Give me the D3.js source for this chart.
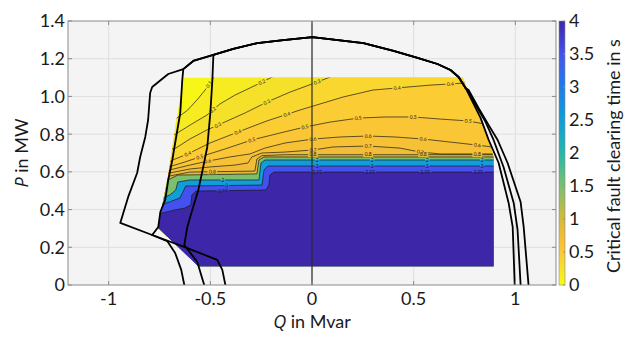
<!DOCTYPE html>
<html>
<head>
<meta charset="utf-8">
<script src="https://cdn.jsdelivr.net/npm/d3@7"></script>
<style>
  body { margin: 0; background: #fff; }
  svg { display: block; }
  text { font-family: Lato, "Open Sans", sans-serif; }
  tspan.sym { font-family: "Open Sans", "Liberation Sans", sans-serif; font-style: italic; }
</style>
</head>
<body>
<svg id="chart" width="639" height="348"></svg>
<script>
// ---- axis ticks ----
const qTicks = [-1, -0.5, 0, 0.5, 1];
const pTicks = [0, 0.2, 0.4, 0.6, 0.8, 1.0, 1.2, 1.4];
const pTickText = ["0", "0.2", "0.4", "0.6", "0.8", "1.0", "1.2", "1.4"];
const cctTicks = [0, 0.5, 1, 1.5, 2, 2.5, 3, 3.5, 4];

// ---- operating points that were simulated (Q in Mvar, P in MW) ----
const region = [[-0.633, 1.1], [0.741, 1.1], [0.780, 0.992], [0.829, 0.886], [0.869, 0.769],
  [0.893, 0.679], [0.893, 0.1], [-0.559, 0.1], [-0.756, 0.302], [-0.746, 0.371],
  [-0.731, 0.451], [-0.707, 0.583], [-0.687, 0.732], [-0.662, 0.912]];

// ---- iso-lines of the critical fault clearing time (s) ----
const levels = [0.1, 0.2, 0.3, 0.4, 0.5, 0.6, 0.7, 0.8, 1, 2, 3, 3.99];
const iso010 = [[-0.700, 0.854], [-0.665, 0.885], [-0.611, 0.928], [-0.562, 0.986], [-0.522, 1.039], [-0.493, 1.087], [-0.473, 1.119]];
const iso020 = [[-0.700, 0.790], [-0.670, 0.801], [-0.591, 0.854], [-0.517, 0.901], [-0.453, 0.960], [-0.379, 1.007], [-0.305, 1.045], [-0.246, 1.076], [-0.187, 1.108]];
const iso030 = [[-0.709, 0.716], [-0.670, 0.726], [-0.601, 0.774], [-0.517, 0.822], [-0.429, 0.864], [-0.330, 0.912], [-0.222, 0.970], [-0.108, 1.023], [0.025, 1.076], [0.113, 1.113]];
const iso040 = [[-0.719, 0.642], [-0.685, 0.663], [-0.611, 0.695], [-0.502, 0.753], [-0.365, 0.811], [-0.222, 0.870], [-0.059, 0.928], [0.153, 0.997], [0.300, 1.034], [0.419, 1.045], [0.581, 1.060], [0.680, 1.066], [0.803, 1.076]];
const iso050 = [[-0.724, 0.620], [-0.690, 0.631], [-0.626, 0.652], [-0.552, 0.679], [-0.429, 0.721], [-0.296, 0.769], [-0.158, 0.806], [-0.034, 0.838], [0.089, 0.864], [0.227, 0.885], [0.360, 0.891], [0.498, 0.891], [0.631, 0.880], [0.768, 0.870], [0.877, 0.848]];
const iso060 = [[-0.724, 0.604], [-0.601, 0.636], [-0.512, 0.657], [-0.404, 0.679], [-0.305, 0.695], [-0.232, 0.726], [-0.133, 0.753], [0.005, 0.774], [0.138, 0.785], [0.276, 0.790], [0.409, 0.785], [0.547, 0.774], [0.680, 0.758], [0.813, 0.742], [0.926, 0.726]];
const iso070 = [[-0.724, 0.589], [-0.601, 0.615], [-0.502, 0.626], [-0.379, 0.636], [-0.315, 0.647], [-0.296, 0.679], [-0.246, 0.700], [-0.133, 0.705], [0.005, 0.716], [0.103, 0.732], [0.276, 0.737], [0.433, 0.726], [0.532, 0.705], [0.631, 0.695], [0.926, 0.695]];
const iso080 = [[-0.724, 0.573], [-0.601, 0.599], [-0.281, 0.604], [-0.271, 0.668], [-0.246, 0.686], [-0.133, 0.691], [0.926, 0.691]];
const iso100 = [[-0.734, 0.546], [-0.690, 0.567], [-0.660, 0.583], [-0.271, 0.589], [-0.261, 0.663], [-0.236, 0.679], [0.926, 0.679]];
const iso200 = [[-0.739, 0.461], [-0.700, 0.477], [-0.670, 0.504], [-0.660, 0.546], [-0.601, 0.557], [-0.261, 0.557], [-0.251, 0.647], [-0.231, 0.663], [0.926, 0.663]];
const iso300 = [[-0.744, 0.424], [-0.690, 0.445], [-0.650, 0.461], [-0.635, 0.493], [-0.621, 0.525], [-0.246, 0.530], [-0.236, 0.610], [-0.217, 0.631], [0.926, 0.631]];
const iso399 = [[-0.759, 0.376], [-0.675, 0.398], [-0.626, 0.408], [-0.596, 0.424], [-0.591, 0.477], [-0.571, 0.498], [-0.227, 0.504], [-0.212, 0.530], [-0.207, 0.583], [-0.187, 0.599], [0.926, 0.599]];

// Q positions of the inline level labels on each iso-line
const labelQ = [
  [-0.507],
  [-0.488, -0.246],
  [-0.463, -0.222, 0.025],
  [-0.611, -0.365, -0.123, 0.419, 0.68],
  [-0.552, -0.296, -0.034, 0.227, 0.498, 0.768],
  [-0.512, 0.005, 0.276, 0.547, 0.813],
  [0.005, 0.276, 0.532],
  [-0.49, 0.005, 0.276, 0.547, 0.813],
  [],
  [-0.438, 0.025, 0.296, 0.567, 0.837],
  [-0.419, 0.025, 0.296, 0.567, 0.837],
  [-0.438, 0.025, 0.286, 0.557, 0.818]
];

// ---- PQ capability limits ----
const dome = [[-0.786, 1.050], [-0.707, 1.119], [-0.633, 1.145], [-0.584, 1.188], [-0.485, 1.220], [-0.387, 1.252], [-0.269, 1.283], [-0.141, 1.299], [0.002, 1.315], [0.253, 1.283], [0.401, 1.241], [0.519, 1.204], [0.617, 1.172], [0.681, 1.140], [0.721, 1.103], [0.755, 1.045]];
const rightA = [[0.780, 0.992], [0.829, 0.886], [0.869, 0.769], [0.918, 0.647], [0.967, 0.435], [0.987, 0.308], [0.997, 0.0], [0.998, -0.05]];
const rightB = [[0.765, 1.034], [0.805, 0.955], [0.854, 0.864], [0.893, 0.769], [0.942, 0.626], [0.992, 0.435], [1.011, 0.292], [1.026, 0.0], [1.027, -0.05]];
const rightC = [[0.770, 1.034], [0.819, 0.939], [0.869, 0.848], [0.913, 0.769], [0.962, 0.647], [1.026, 0.440], [1.041, 0.308], [1.065, 0.0], [1.066, -0.05]];
const left1 = [[-0.796, 1.018], [-0.806, 0.875], [-0.820, 0.785], [-0.845, 0.679], [-0.860, 0.594], [-0.904, 0.467], [-0.943, 0.329], [-0.786, 0.265], [-0.613, 0.196], [-0.466, 0.133], [-0.441, 0.080], [-0.426, 0.0], [-0.425, -0.05]];
const left2 = [[-0.638, 1.087], [-0.648, 0.912], [-0.673, 0.753], [-0.687, 0.663], [-0.707, 0.557], [-0.722, 0.451], [-0.746, 0.387], [-0.756, 0.308], [-0.786, 0.265], [-0.712, 0.233], [-0.673, 0.170], [-0.643, 0.080], [-0.628, 0.0], [-0.627, -0.05]];
const left3 = [[-0.490, 1.087], [-0.500, 0.912], [-0.515, 0.732], [-0.535, 0.626], [-0.559, 0.504], [-0.589, 0.398], [-0.613, 0.308], [-0.628, 0.212], [-0.564, 0.122], [-0.545, 0.053], [-0.530, 0.0], [-0.529, -0.05]];

// ---- scales ----
const svg = d3.select("#chart");
const x = d3.scaleLinear().domain([-1.2, 1.2]).range([68, 556]);
const y = d3.scaleLinear().domain([0, 1.4]).range([285, 21]);
const yc = d3.scaleLinear().domain([0, 4]).range([285, 21]);

// parula-like colour map, long times dark blue, short times yellow
const parula = d3.scaleLinear()
  .domain([0, 0.125, 0.25, 0.375, 0.5, 0.625, 0.75, 0.82, 0.88, 0.94, 1])
  .range(["#3e26a8", "#4352ee", "#1e7deb", "#0f9ed7", "#23b7ad", "#7dbf6e", "#d2ba3c", "#f5bd37", "#fcc935", "#f6e22a", "#f9fb14"])
  .interpolate(d3.interpolateRgb);
const color = v => parula(1 - v / 4);

const line = d3.line().x(d => x(d[0])).y(d => y(d[1]));

const defs = svg.append("defs");
defs.append("clipPath").attr("id", "plotArea")
  .append("rect").attr("x", 68).attr("y", 21).attr("width", 488).attr("height", 264);
defs.append("clipPath").attr("id", "simRegion")
  .append("path").attr("d", line(region) + "Z");

// plot background and grid
svg.append("rect").attr("x", 68).attr("y", 21).attr("width", 488).attr("height", 264).attr("fill", "#f4f4f4");
const grid = svg.append("g").attr("stroke", "#dedede").attr("stroke-width", 1);
qTicks.forEach(q => grid.append("line").attr("x1", x(q)).attr("x2", x(q)).attr("y1", 21).attr("y2", 285));
pTicks.slice(1, -1).forEach(p => grid.append("line").attr("x1", 68).attr("x2", 556).attr("y1", y(p)).attr("y2", y(p)));

// ---- filled bands ----
const isoSets = [iso010, iso020, iso030, iso040, iso050, iso060, iso070, iso080, iso100, iso200, iso300, iso399];
const isolines = levels.map((lv, i) => ({ level: lv, pts: isoSets[i], labels: labelQ[i] }));
const extend = pts => [[pts[0][0] - 0.1, pts[0][1]], ...pts, [pts[pts.length - 1][0] + 0.1, pts[pts.length - 1][1]]];

const fills = svg.append("g").attr("clip-path", "url(#simRegion)");
fills.append("path").attr("d", line(region) + "Z").attr("fill", color(0.05));
isolines.forEach((iso, i) => {
  const upper = i + 1 < isolines.length ? isolines[i + 1].level : 4;
  const pts = extend(iso.pts);
  const first = pts[0], last = pts[pts.length - 1];
  const poly = [...pts, [2, last[1]], [2, -1], [-2, -1], [-2, first[1]]];
  fills.append("path").attr("d", line(poly) + "Z").attr("fill", color((iso.level + upper) / 2));
});

// ---- iso-lines with inline labels ----
function pointAt(pts, q) {
  for (let i = 0; i < pts.length - 1; i++) {
    const [q0, p0] = pts[i], [q1, p1] = pts[i + 1];
    if (q1 > q0 && q >= q0 && q <= q1) {
      const t = (q - q0) / (q1 - q0);
      const px = x(q), py = y(p0 + t * (p1 - p0));
      const ang = Math.atan2(y(p1) - y(p0), x(q1) - x(q0)) * 180 / Math.PI;
      return { px, py, ang };
    }
  }
  return null;
}
const labelSpots = [];
isolines.forEach(iso => {
  iso.labels.forEach(q => {
    const s = pointAt(iso.pts, q);
    if (s) labelSpots.push({ ...s, text: String(iso.level) });
  });
});

const mask = defs.append("mask").attr("id", "labelGaps").attr("maskUnits", "userSpaceOnUse")
  .attr("x", 0).attr("y", 0).attr("width", 639).attr("height", 348);
mask.append("rect").attr("x", 0).attr("y", 0).attr("width", 639).attr("height", 348).attr("fill", "#fff");
labelSpots.forEach(s => {
  const w = s.text.length * 2.6 + 2;
  mask.append("rect").attr("x", -w / 2).attr("y", -2.5).attr("width", w).attr("height", 5)
    .attr("transform", `translate(${s.px},${s.py}) rotate(${s.ang})`).attr("fill", "#000");
});

const isoG = svg.append("g").attr("clip-path", "url(#simRegion)")
  .append("g").attr("mask", "url(#labelGaps)");
isolines.forEach(iso => {
  isoG.append("path").attr("d", line(extend(iso.pts)))
    .attr("fill", "none").attr("stroke", "#1a1a1a").attr("stroke-width", 0.7);
});
svg.append("g").selectAll("text").data(labelSpots).join("text")
  .attr("transform", d => `translate(${d.px},${d.py}) rotate(${d.ang})`)
  .attr("text-anchor", "middle").attr("dy", "0.35em")
  .attr("font-size", 5).attr("fill", "#1a1a1a")
  .text(d => d.text);

// ---- Q = 0 line ----
svg.append("line").attr("x1", x(0)).attr("x2", x(0)).attr("y1", 21).attr("y2", 285)
  .attr("stroke", "#2a2a2a").attr("stroke-width", 1.2);

// ---- capability limits ----
const limits = svg.append("g").attr("clip-path", "url(#plotArea)")
  .attr("fill", "none").attr("stroke", "#000").attr("stroke-width", 1.8).attr("stroke-linejoin", "round");
const curve1 = [...left1.slice().reverse(), ...dome, ...rightC];
const curve2 = [...left2.slice().reverse(), ...dome.slice(2), ...rightB];
const curve3 = [...left3.slice().reverse(), ...dome.slice(4), ...rightA];
[curve1, curve2, curve3].forEach(c => limits.append("path").attr("d", line(c)));

// ---- axes box and ticks ----
const axisColor = "#8a8a8a";
svg.append("rect").attr("x", 68).attr("y", 21).attr("width", 488).attr("height", 264)
  .attr("fill", "none").attr("stroke", axisColor).attr("stroke-width", 1);
const tk = svg.append("g").attr("stroke", axisColor).attr("stroke-width", 1);
qTicks.forEach(q => {
  tk.append("line").attr("x1", x(q)).attr("x2", x(q)).attr("y1", 285).attr("y2", 281);
  tk.append("line").attr("x1", x(q)).attr("x2", x(q)).attr("y1", 21).attr("y2", 25);
});
pTicks.forEach(p => {
  tk.append("line").attr("x1", 68).attr("x2", 72).attr("y1", y(p)).attr("y2", y(p));
  tk.append("line").attr("x1", 556).attr("x2", 552).attr("y1", y(p)).attr("y2", y(p));
});

svg.append("g").selectAll("text").data(qTicks).join("text")
  .attr("x", d => x(d)).attr("y", 305).attr("text-anchor", "middle")
  .attr("font-size", 18).attr("fill", "#1a1a1a").text(d => String(d));
svg.append("g").selectAll("text").data(pTicks).join("text")
  .attr("x", 65).attr("y", d => y(d)).attr("dy", "0.36em").attr("text-anchor", "end")
  .attr("font-size", 18).attr("fill", "#1a1a1a").text((d, i) => pTickText[i]);

// axis titles
const xt = svg.append("text").attr("x", x(0)).attr("y", 328).attr("text-anchor", "middle")
  .attr("font-size", 18).attr("fill", "#1a1a1a");
xt.append("tspan").attr("class", "sym").text("Q");
xt.append("tspan").text(" in Mvar");
const yt = svg.append("text").attr("transform", "translate(28,153) rotate(-90)").attr("text-anchor", "middle")
  .attr("font-size", 18).attr("fill", "#1a1a1a");
yt.append("tspan").attr("class", "sym").text("P");
yt.append("tspan").text(" in MW");

// ---- colour bar ----
const grad = defs.append("linearGradient").attr("id", "cbar")
  .attr("x1", 0).attr("y1", 1).attr("x2", 0).attr("y2", 0);
d3.range(0, 41).forEach(i => {
  const v = i / 10;
  grad.append("stop").attr("offset", v / 4).attr("stop-color", color(v));
});
svg.append("rect").attr("x", 559).attr("y", 21).attr("width", 6).attr("height", 264)
  .attr("fill", "url(#cbar)").attr("stroke", axisColor).attr("stroke-width", 0.6);
const ctk = svg.append("g").attr("stroke", axisColor).attr("stroke-width", 0.8);
cctTicks.forEach(v => ctk.append("line").attr("x1", 565).attr("x2", 563).attr("y1", yc(v)).attr("y2", yc(v)));
svg.append("g").selectAll("text").data(cctTicks).join("text")
  .attr("x", 569).attr("y", d => yc(d)).attr("dy", "0.36em")
  .attr("font-size", 18).attr("fill", "#1a1a1a").text(d => String(d));
svg.append("text").attr("transform", "translate(620,156) rotate(-90)").attr("text-anchor", "middle")
  .attr("font-size", 18).attr("fill", "#1a1a1a").text("Critical fault clearing time in s");
</script>
</body>
</html>
